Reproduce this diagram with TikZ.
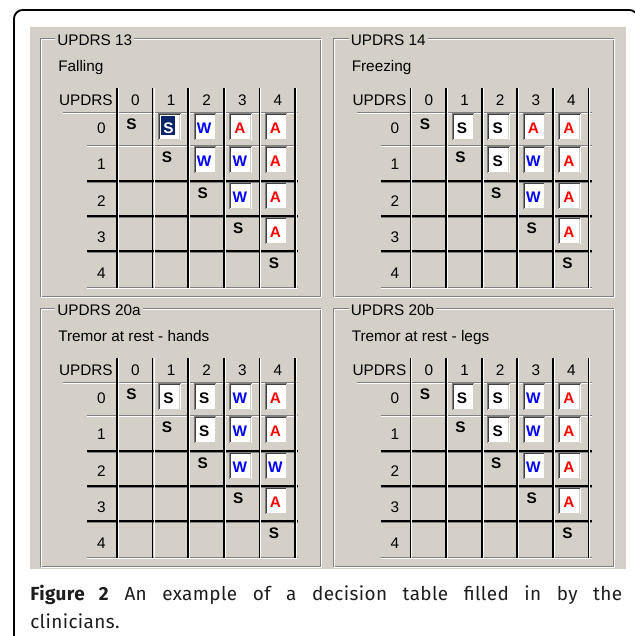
\documentclass[tikz,border=0pt]{standalone}
\usepackage{fontspec}
\setmainfont{Liberation Sans}
\newfontfamily\capfont[LetterSpace=2]{Fira Sans}
\definecolor{winbg}{RGB}{212,208,200}
\definecolor{winshadow}{RGB}{128,128,128}
\definecolor{windark}{RGB}{64,64,64}
\definecolor{capcol}{RGB}{30,28,28}
\definecolor{selnavy}{RGB}{10,36,106}
\definecolor{wblue}{RGB}{0,0,255}
\definecolor{ared}{RGB}{255,0,0}
\tikzset{
  uitxt/.style={font=\fontsize{11.5}{13}\selectfont, inner sep=0pt, text=black},
  celltxt/.style={font=\fontsize{11.5}{13}\selectfont\bfseries, inner sep=0pt},
  etchdark/.style={draw=winshadow, line width=0.75pt},
  etchlight/.style={draw=white, line width=0.75pt},
  boldrule/.style={draw=black, line width=1.7pt},
  vrule/.style={draw=black, line width=1.3pt},
  captxt/.style={anchor=base west, inner sep=0pt, text=capcol, font=\capfont\fontsize{14.2}{17}\selectfont},
}
\def\whitecol{white}
% #1 prefix, #2 xoff, #3 yoff, #4 title, #5 subtitle, #6 boxed cells r/c/letter/colour
\newcommand\tblpanel[6]{%
\begin{scope}[shift={(#2,#3)}]
  \draw[etchdark] (40,38) rectangle (320,296);
  \draw[etchlight] (41,39) rectangle (321,297);
  \node[uitxt, fill=winbg, inner xsep=1.5pt, anchor=base west] (#1title) at (55,45) {#4};
  \node[uitxt, anchor=base west] (#1sub) at (58,71) {#5};
  \node[uitxt, anchor=base east] (#1hdr) at (113,105) {UPDRS};
  \foreach \cA in {0,...,4}
    \node[uitxt, anchor=base] (#1h\cA) at ({117+35.6*\cA+18.5},105) {\cA};
  \foreach \rA/\bA in {0/133,1/169,2/206,3/242,4/278}
    \node[uitxt, anchor=base east] (#1r\rA) at (106,\bA) {\rA};
  % etched thin lines
  \draw[etchdark] (63,112) -- (298,112);
  \draw[etchlight] (63,113) -- (298,113);
  \draw[etchdark] (87,145) -- (298,145);
  \draw[etchlight] (87,146) -- (298,146);
  \draw[etchdark] (87,287) -- (298,287);
  \draw[etchlight] (87,288) -- (298,288);
  % bold lines
  \foreach \yA in {181,216,251} {
    \draw[boldrule] (87,\yA) -- (298,\yA);
    \draw[winshadow, line width=0.75pt] (87,\yA+1.8) -- (298,\yA+1.8);
  }
  % verticals
  \foreach \iA in {0,...,5} {
    \draw[vrule] ({117+35.6*\iA},88) -- ({117+35.6*\iA},288);
    \draw[white, line width=0.6pt] ({117+35.6*\iA+1.3},88) -- ({117+35.6*\iA+1.3},288);
  }
  % diagonal plain S
  \foreach \rA/\tA in {0/112,1/145,2/181,3/216,4/251}
    \node[celltxt, anchor=base] (#1s\rA) at ({117+35.6*\rA+14.5},\tA+17) {S};
  % boxed cells
  \foreach \rA/\cA/\lA/\kA in {#6} {
    \pgfmathsetmacro\rt{{112,145,181,216,251}[\rA]}
    \pgfmathsetmacro\cl{117+35.6*\cA}
    \fill[white] (\cl+6,\rt+1) rectangle (\cl+28,\rt+28);
    \draw[winbg, line width=0.75pt] (\cl+7,\rt+27) -- (\cl+27,\rt+27) -- (\cl+27,\rt+2);
    \draw[winshadow, line width=0.75pt] (\cl+6,\rt+28) -- (\cl+6,\rt+1) -- (\cl+28,\rt+1);
    \draw[windark, line width=0.75pt] (\cl+7,\rt+27) -- (\cl+7,\rt+2) -- (\cl+27,\rt+2);
    \edef\tmpcol{\kA}
    \ifx\tmpcol\whitecol
      \fill[selnavy] (\cl+8.5,\rt+3.5) rectangle (\cl+22.5,\rt+22.5);
    \fi
    \node[celltxt, anchor=base, text=\kA] (#1b\rA\cA) at (\cl+16,\rt+21) {\lA};
  }
\end{scope}}

\begin{document}
\begin{tikzpicture}[x=0.75pt,y=-0.75pt]
\useasboundingbox (0,0) rectangle (635,636);
\fill[white] (0,0) rectangle (635,636);
\begin{scope}
  \clip (0,0) rectangle (635,636);
  \draw[line width=1.4pt, rounded corners=6.5pt] (14,645) -- (14,10) -- (638,10) -- (638,645);
\end{scope}
\fill[winbg] (30,27) rectangle (626,569);

\tblpanel{pa}{0}{0}{UPDRS 13}{Falling}{0/1/S/white,0/2/W/wblue,0/3/A/ared,0/4/A/ared,1/2/W/wblue,1/3/W/wblue,1/4/A/ared,2/3/W/wblue,2/4/A/ared,3/4/A/ared}
\tblpanel{pb}{293.5}{0}{UPDRS 14}{Freezing}{0/1/S/black,0/2/S/black,0/3/A/ared,0/4/A/ared,1/2/S/black,1/3/W/wblue,1/4/A/ared,2/3/W/wblue,2/4/A/ared,3/4/A/ared}
\tblpanel{pc}{0}{270}{UPDRS 20a}{Tremor at rest - hands}{0/1/S/black,0/2/S/black,0/3/W/wblue,0/4/A/ared,1/2/S/black,1/3/W/wblue,1/4/A/ared,2/3/W/wblue,2/4/W/wblue,3/4/A/ared}
\tblpanel{pd}{293.5}{270}{UPDRS 20b}{Tremor at rest - legs}{0/1/S/black,0/2/S/black,0/3/W/wblue,0/4/A/ared,1/2/S/black,1/3/W/wblue,1/4/A/ared,2/3/W/wblue,2/4/A/ared,3/4/A/ared}

\node[captxt] (cap1) at (30,600) {\makebox[444pt][s]{\textbf{Figure 2} An example of a decision table filled in by the}};
\node[captxt] (cap2) at (30,628) {clinicians.};
\end{tikzpicture}
\end{document}
